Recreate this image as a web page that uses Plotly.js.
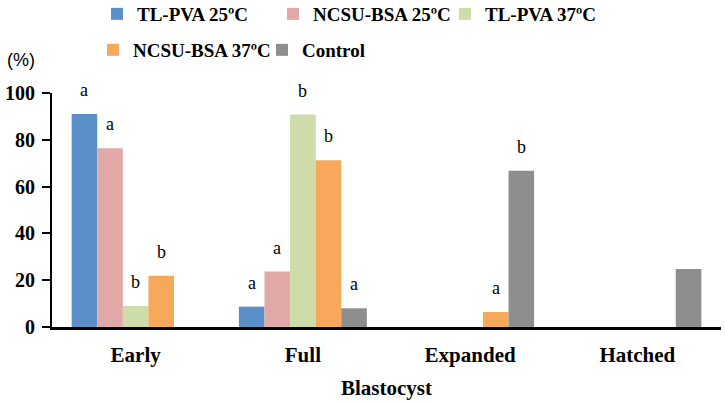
<!DOCTYPE html>
<html>
<head>
<meta charset="utf-8">
<script src="https://cdn.plot.ly/plotly-3.0.1.min.js"></script>
<style>html,body{margin:0;padding:0;background:#fff;}#chart{width:725px;height:403px;}</style>
</head>
<body>
<div id="chart"></div>
<script>
const categories = ['Early', 'Full', 'Expanded', 'Hatched'];
const seriesNames = ['TL-PVA 25ºC', 'NCSU-BSA 25ºC', 'TL-PVA 37ºC', 'NCSU-BSA 37ºC', 'Control'];
const tlpva25 = [91.0, 8.7, 0, 0];
const ncsu25 = [76.4, 23.7, 0, 0];
const tlpva37 = [9.0, 90.8, 0, 0];
const ncsu37 = [21.9, 71.3, 6.4, 0];
const control = [0, 8.0, 66.8, 24.8];
const tlpva25Letters = ['a', 'a', '', ''];
const ncsu25Letters = ['a', 'a', '', ''];
const tlpva37Letters = ['b', 'b', '', ''];
const ncsu37Letters = ['b', 'b', 'a', ''];
const controlLetters = ['', 'a', 'b', ''];
const yTicks = [0, 20, 40, 60, 80, 100];

const values = [tlpva25, ncsu25, tlpva37, ncsu37, control];
const letters = [tlpva25Letters, ncsu25Letters, tlpva37Letters, ncsu37Letters, controlLetters];
const colors = ['#5B8FCA', '#E0A8A7', '#CEDCA9', '#F8A85A', '#8E8E8E'];
const legendIds = ['legend', 'legend2', 'legend3', 'legend4', 'legend5'];

const SERIF = '"Liberation Serif", "Times New Roman", serif';
const serifBold = {family: SERIF, size: 20, color: '#000', weight: 'bold'};

const traces = values.map((v, i) => ({
  type: 'bar',
  name: seriesNames[i],
  x: categories,
  y: v,
  marker: {color: colors[i], line: {width: 0}},
  legend: legendIds[i],
  hoverinfo: 'x+y+name'
}));

const W = 725, H = 403;
const margin = {l: 52, r: 4, t: 93, b: 76};
const plotW = W - margin.l - margin.r, plotH = H - margin.t - margin.b;
const pxToPaperX = px => (px - margin.l) / plotW;
const pxToPaperY = py => (H - margin.b - py) / plotH;

const bargap = 0.235;
const nSeries = values.length;
const slot = (1 - bargap) / nSeries;
const annotations = [];
letters.forEach((arr, i) => {
  arr.forEach((t, j) => {
    if (!t) return;
    annotations.push({
      x: j + (i - (nSeries - 1) / 2) * slot,
      y: values[i][j],
      xref: 'x', yref: 'y',
      text: t,
      showarrow: false,
      yanchor: 'middle',
      yshift: 24,
      font: {family: SERIF, size: 18, color: '#000'}
    });
  });
});
annotations.push({
  x: pxToPaperX(21), y: pxToPaperY(60), xref: 'paper', yref: 'paper',
  xanchor: 'center', yanchor: 'middle',
  text: '(%)', showarrow: false,
  font: {family: '"Liberation Sans", Arial, sans-serif', size: 18, color: '#000'}
});
annotations.push({
  x: 0.5, y: pxToPaperY(388), xref: 'paper', yref: 'paper',
  xanchor: 'center', yanchor: 'middle',
  text: 'Blastocyst', showarrow: false,
  font: {family: SERIF, size: 21, color: '#000', weight: 'bold'}
});

const legendPos = [[97, 14], [273, 14], [445, 14], [93, 50], [262, 50]];
const layout = {
  width: W, height: H,
  margin: margin,
  paper_bgcolor: '#fff', plot_bgcolor: '#fff',
  barmode: 'group', bargap: bargap, bargroupgap: 0,
  showlegend: true,
  xaxis: {
    type: 'category',
    showline: true, linecolor: '#000', linewidth: 2.5,
    ticks: '', showgrid: false, zeroline: false,
    tickfont: {family: SERIF, size: 21, color: '#000', weight: 'bold'},
    ticklabelstandoff: 7
  },
  yaxis: {
    range: [0, 100], tickvals: yTicks, ticktext: yTicks.map(String),
    showline: true, linecolor: '#000', linewidth: 2,
    ticks: 'outside', ticklen: 8, tickwidth: 2, tickcolor: '#000',
    showgrid: false, zeroline: false,
    tickfont: serifBold,
    ticklabelstandoff: 3
  },
  annotations: annotations
};
legendIds.forEach((id, i) => {
  layout[id] = {
    orientation: 'h',
    xref: 'container', yref: 'container',
    x: legendPos[i][0] / W, y: 1 - legendPos[i][1] / H,
    xanchor: 'left', yanchor: 'middle',
    bgcolor: 'rgba(0,0,0,0)', borderwidth: 0,
    font: {family: SERIF, size: 19, color: '#000', weight: 'bold'}
  };
});

Plotly.newPlot('chart', traces, layout, {displayModeBar: false, staticPlot: true});
</script>
</body>
</html>
